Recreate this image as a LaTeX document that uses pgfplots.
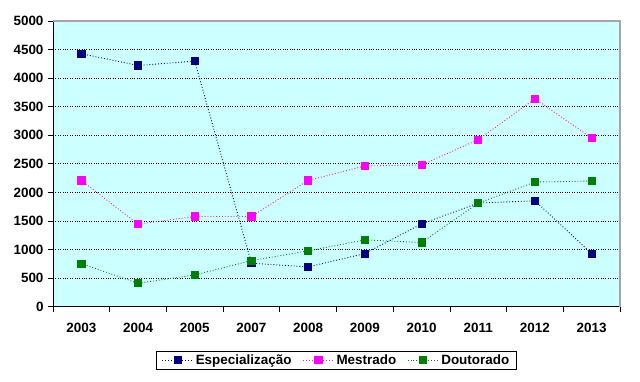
\documentclass[border=0pt]{standalone}
\usepackage{pgfplots}
\pgfplotsset{compat=1.18}
\usepackage{fontspec}
\setmainfont{Liberation Sans}
\definecolor{bgc}{RGB}{204,255,255}
\definecolor{esp}{RGB}{0,0,128}
\definecolor{mes}{RGB}{255,0,255}
\definecolor{dou}{RGB}{0,128,0}
\begin{document}
\begin{tikzpicture}
\path[use as bounding box] (-53bp,-75.3bp) rectangle (587bp,306.7bp);
\begin{axis}[
  at={(0,0)}, anchor=south west,
  scale only axis, width=567bp, height=285.7bp,
  xmin=-0.5, xmax=9.5, ymin=0, ymax=5000,
  axis background/.style={fill=bgc},
  axis x line*=bottom, axis y line*=left,
  axis line style={black, line width=0.8pt, -},
  xtick={0,...,9},
  xticklabels={2003,2004,2005,2007,2008,2009,2010,2011,2012,2013},
  minor xtick={-0.5,0.5,...,9.5},
  major x tick style={draw=none},
  minor tick length=5bp,
  tick align=outside,
  ytick={0,500,...,5000},
  major tick length=5bp,
  tick style={black, line width=0.8pt},
  extra y ticks={500,1000,...,4500},
  extra y tick labels={},
  extra y tick style={grid=major, major tick length=0pt},
  grid style={black, dotted, line width=0.8pt},
  /pgf/number format/assume math mode=true,
  /pgf/number format/1000 sep={},
  ticklabel style={font=\fontsize{13.5}{15}\selectfont\bfseries},
  xticklabel style={yshift=-8bp},
  yticklabel style={xshift=-1bp},
  legend columns=3,
  legend style={at={(0.5,-0.187)}, anchor=center, draw=black, line width=0.8pt,
    font=\fontsize{13.5}{15}\selectfont\bfseries, inner xsep=5pt, inner ysep=1.5pt,
    /tikz/every even column/.append style={column sep=9pt}},
  legend image code/.code={\draw[#1, mark repeat=2, mark phase=2] plot coordinates {(0cm,0cm) (0.55cm,0cm) (1.1cm,0cm)};},
  every axis plot/.append style={line width=0.9pt, dotted, mark=square*, mark size=3.6bp, mark options={solid}},
  clip=false,
]
\addplot[esp, mark options={solid, fill=esp, draw=esp}] coordinates {(0,4427) (1,4222) (2,4298) (3,761) (4,696) (5,930) (6,1450) (7,1813) (8,1854) (9,930)};
\addlegendentry{Especialização}
\addplot[mes, mark options={solid, fill=mes, draw=mes}] coordinates {(0,2210) (1,1445) (2,1579) (3,1579) (4,2210) (5,2463) (6,2480) (7,2924) (8,3638) (9,2954)};
\addlegendentry{Mestrado}
\addplot[dou, mark options={solid, fill=dou, draw=dou}] coordinates {(0,754) (1,410) (2,556) (3,807) (4,977) (5,1170) (6,1123) (7,1813) (8,2182) (9,2199)};
\addlegendentry{Doutorado}
\draw[gray!70, line width=1.5pt] (rel axis cs:0,1) -- (rel axis cs:1,1) -- (rel axis cs:1,0);
\end{axis}
\end{tikzpicture}
\end{document}
